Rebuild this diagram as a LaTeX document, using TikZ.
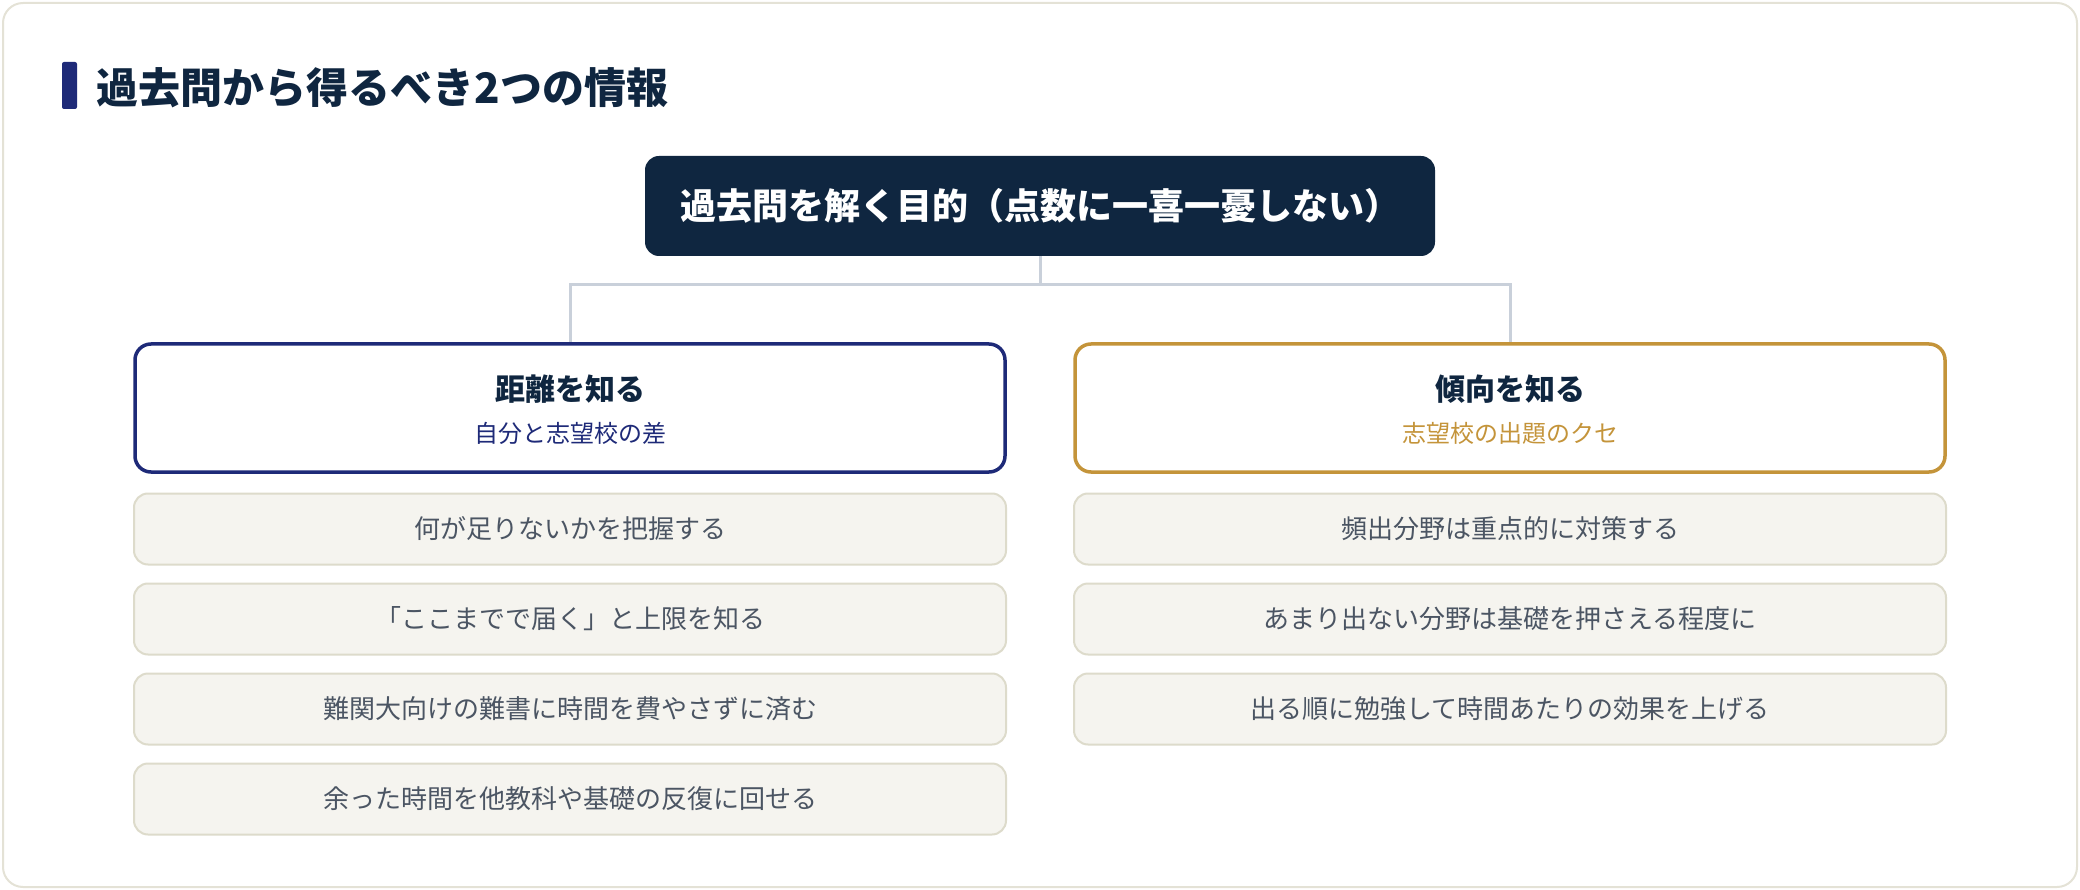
\documentclass[tikz,border=0pt]{standalone}
\usepackage{fontspec}
\setmainfont{Noto Sans CJK JP}
\definecolor{ink}{HTML}{0F2640}
\definecolor{navy}{HTML}{1E2A78}
\definecolor{gold}{HTML}{C4943A}
\definecolor{itemfill}{HTML}{F5F4EF}
\definecolor{itemline}{HTML}{DDDBCB}
\definecolor{itemtext}{HTML}{4B5563}
\definecolor{wire}{HTML}{C9D0DA}
\definecolor{frame}{HTML}{E4E2D6}
\begin{document}
\begin{tikzpicture}[x=1pt,y=-1pt]
	\def \topht{206}
	\def \forkht{285}
	\def \headht{408}
	\def \headtitle{389}
	\def \headsub{433}
	\def \leftx{570}
	\def \rightx{1510}
	\tikzstyle{top-node}=[rectangle,rounded corners=14pt,fill=ink,text=white,minimum width=790pt,minimum height=100pt,font=\fontsize{36}{42}\selectfont\bfseries]
	\tikzstyle{h-node}=[rectangle,rounded corners=16pt,fill=white,line width=3.5pt,minimum width=870pt,minimum height=128pt]
	\tikzstyle{h-title}=[text=ink,font=\fontsize{30}{36}\selectfont\bfseries]
	\tikzstyle{h-sub}=[font=\fontsize{24}{28}\selectfont]
	\tikzstyle{i-node}=[rectangle,rounded corners=14pt,fill=itemfill,draw=itemline,line width=2pt,minimum width=872pt,minimum height=71pt,text=itemtext,font=\fontsize{26}{30}\selectfont]
	\tikzstyle{conn}=[draw=wire,line width=3pt]
	\useasboundingbox (0,0) rectangle (2080,890);
	% frame
	\draw[frame,fill=white,line width=2pt,rounded corners=20pt] (3,3) rectangle (2077,887);
	% heading
	\fill[navy,rounded corners=2pt] (62,62) rectangle (77,109);
	\node[anchor=west,text=ink,font=\fontsize{42}{48}\selectfont\bfseries] (heading) at (93,88) {過去問から得るべき2つの情報};

	% purpose
	\node[top-node] 	(goal)	at (1040,\topht)	{過去問を解く目的（点数に一喜一憂しない）};
	\coordinate (fork) at (1040,\forkht);

	% two branches
	\node[h-node,draw=navy] 	(dist)	at (\leftx,\headht)	{};
	\node[h-title] 	(dist-t)	at (\leftx,\headtitle)	{距離を知る};
	\node[h-sub,text=navy] 	(dist-s)	at (\leftx,\headsub)	{自分と志望校の差};
	\node[h-node,draw=gold] 	(tend)	at (\rightx,\headht)	{};
	\node[h-title] 	(tend-t)	at (\rightx,\headtitle)	{傾向を知る};
	\node[h-sub,text=gold] 	(tend-s)	at (\rightx,\headsub)	{志望校の出題のクセ};

	% left items
	\node[i-node] 	(d1)	at (\leftx,529)	{何が足りないかを把握する};
	\node[i-node] 	(d2)	at (\leftx,619)	{「ここまでで届く」と上限を知る};
	\node[i-node] 	(d3)	at (\leftx,709)	{難関大向けの難書に時間を費やさずに済む};
	\node[i-node] 	(d4)	at (\leftx,799)	{余った時間を他教科や基礎の反復に回せる};

	% right items
	\node[i-node] 	(t1)	at (\rightx,529)	{頻出分野は重点的に対策する};
	\node[i-node] 	(t2)	at (\rightx,619)	{あまり出ない分野は基礎を押さえる程度に};
	\node[i-node] 	(t3)	at (\rightx,709)	{出る順に勉強して時間あたりの効果を上げる};

	\path[conn]
		(goal.south)	--	(fork)
		(fork)	-|	(dist.north)
		(fork)	-|	(tend.north);
\end{tikzpicture}
\end{document}
